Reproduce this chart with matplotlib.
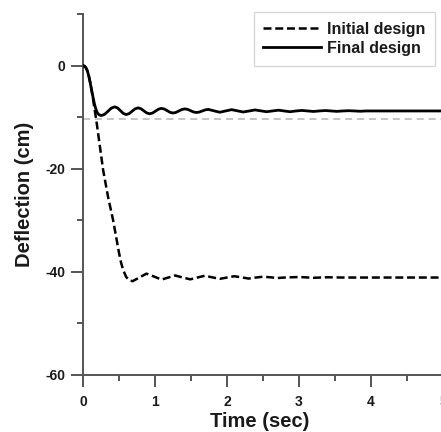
import matplotlib
matplotlib.use("Agg")
import matplotlib.pyplot as plt
from matplotlib.ticker import MultipleLocator

plt.rcParams['font.family'] = ['Liberation Sans', 'DejaVu Sans']
plt.rcParams['font.weight'] = 'bold'
plt.rcParams['axes.unicode_minus'] = False

# ---- data ----
final_t = [0, 0.02, 0.04, 0.06, 0.08, 0.10, 0.12, 0.14, 0.16, 0.18, 0.20, 0.225, 0.255,
           0.30, 0.348, 0.394, 0.44,
           0.48, 0.52, 0.56, 0.60,
           0.641, 0.682, 0.724, 0.765,
           0.805, 0.845, 0.885, 0.925,
           0.966, 1.007, 1.049, 1.09,
           1.13, 1.17, 1.21, 1.25,
           1.291, 1.332, 1.374, 1.415,
           1.455, 1.495, 1.535, 1.575,
           1.616, 1.657, 1.699, 1.74,
           1.82, 1.90, 1.98, 2.065, 2.145, 2.225, 2.31, 2.39, 2.47, 2.55, 2.63, 2.715,
           2.795, 2.875, 2.96, 3.04, 3.12, 3.2, 3.28, 3.365, 3.445, 3.525, 3.61, 3.69,
           3.77, 3.85, 3.93, 4.5, 5.0]
final_y = [0, -0.1, -0.4, -1.0, -2.0, -3.3, -4.8, -6.2, -7.5, -8.5, -9.2, -9.55, -9.7,
           -9.45, -8.85, -8.25, -8.0,
           -8.22, -8.75, -9.28, -9.5,
           -9.31, -8.85, -8.39, -8.2,
           -8.37, -8.78, -9.18, -9.35,
           -9.2, -8.83, -8.45, -8.3,
           -8.43, -8.75, -9.07, -9.2,
           -9.08, -8.8, -8.52, -8.4,
           -8.5, -8.75, -9.0, -9.1,
           -9.01, -8.8, -8.59, -8.5,
           -8.78, -9.05, -8.8, -8.55, -8.78, -9.0, -8.8, -8.6, -8.78, -8.95, -8.8, -8.65,
           -8.8, -8.95, -8.8, -8.7, -8.8, -8.9, -8.8, -8.72, -8.8, -8.88, -8.8, -8.75,
           -8.8, -8.86, -8.8, -8.8, -8.8]

initial_t = [0, 0.02, 0.04, 0.06, 0.08, 0.10, 0.12, 0.14, 0.16, 0.185, 0.23, 0.28, 0.35,
             0.417, 0.46, 0.50, 0.53, 0.56, 0.60, 0.65, 0.69, 0.79, 0.88, 0.985, 1.09,
             1.185, 1.28, 1.385, 1.49, 1.59, 1.69, 1.79, 1.9, 2.0, 2.1, 2.2, 2.3, 2.4,
             2.5, 2.6, 2.7, 2.8, 3.0, 3.2, 3.4, 3.6, 5.0]
initial_y = [0, -0.1, -0.4, -1.0, -2.0, -3.3, -4.8, -6.5, -8.4, -10.6, -15.2, -20.3, -25.6,
             -29.9, -33.2, -36.3, -38.3, -39.7, -41.0, -41.7, -41.8, -41.05, -40.35, -40.9, -41.5,
             -41.1, -40.7, -41.1, -41.45, -41.1, -40.75, -41.05, -41.35, -41.1, -40.85, -41.05, -41.3, -41.1,
             -40.95, -41.05, -41.2, -41.1, -41.0, -41.15, -41.05, -41.1, -41.1]

reference_level = -10.3
labels = ['Initial design', 'Final design']
x_ticks = [0, 1, 2, 3, 4, 5]
y_ticks = [-60, -40, -20, 0]

# ---- figure ----
W, H = 441, 432
fig = plt.figure(figsize=(W / 100, H / 100), dpi=100)
ax = fig.add_axes([83 / W, 1 - 375 / H, (443 - 83) / W, (375 - 14) / H])

ax.axhline(reference_level, color='#b4b4b4', lw=1.1, linestyle=(0, (4.6, 3.2)), zorder=1)
ax.plot(initial_t, initial_y, color='black', lw=1.8, linestyle=(0, (3.2, 1.5)),
        label=labels[0], zorder=3)
ax.plot(final_t, final_y, color='black', lw=2.0, linestyle='-', label=labels[1], zorder=4)

ax.set_xlim(0, 5)
ax.set_ylim(-60, 10)
ax.set_xticks(x_ticks)
ax.set_yticks(y_ticks)
ax.xaxis.set_minor_locator(MultipleLocator(0.5))
ax.yaxis.set_minor_locator(MultipleLocator(10))

spine_c = '#555555'
for s in ['top', 'right']:
    ax.spines[s].set_visible(False)
for s in ['left', 'bottom']:
    ax.spines[s].set_color(spine_c)
    ax.spines[s].set_linewidth(1.4)

ax.tick_params(which='major', direction='out', length=8.5, width=1.4, color=spine_c,
               labelsize=10, labelcolor='#1a1a1a')
ax.tick_params(which='minor', direction='out', length=4.5, width=1.4, color=spine_c)
ax.tick_params(axis='x', which='major', pad=6)
ax.tick_params(axis='y', which='major', pad=4)
for lab in ax.get_xticklabels() + ax.get_yticklabels():
    lab.set_fontweight('bold')

ax.set_xlabel('Time (sec)', fontsize=14.5, fontweight='bold', color='#1a1a1a')
ax.set_ylabel('Deflection (cm)', fontsize=14.5, fontweight='bold', color='#1a1a1a')
ax.xaxis.set_label_coords(0.49, -0.102)
ax.yaxis.set_label_coords(-0.135, 0.5)

leg = ax.legend(loc='upper right', bbox_to_anchor=(435 / W, 1 - 12 / H),
                bbox_transform=fig.transFigure, borderaxespad=0,
                prop={'weight': 'bold', 'size': 11.5}, handlelength=3.6,
                handletextpad=0.4, labelspacing=0.28, borderpad=0.6,
                fancybox=False, frameon=True)
leg.get_frame().set_edgecolor('#cfcfcf')
leg.get_frame().set_linewidth(1.0)
for t in leg.get_texts():
    t.set_color('#1a1a1a')

fig.savefig('out.png', dpi=100)
